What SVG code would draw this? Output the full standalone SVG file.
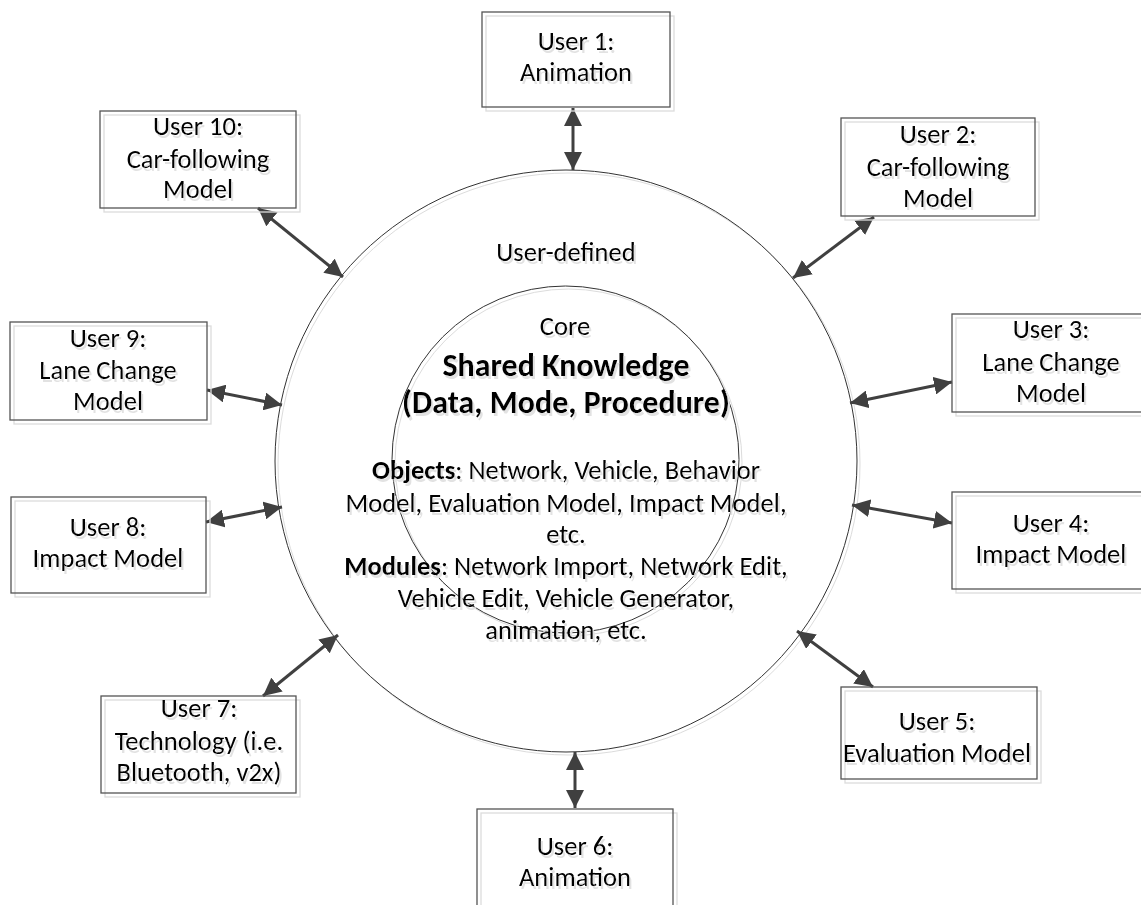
<svg xmlns="http://www.w3.org/2000/svg" width="1141" height="905" viewBox="0 0 1141 905">
<style>
text{font-family:Carlito,Lato,"Liberation Sans",sans-serif;font-size:26.6px;fill:#000;text-anchor:middle}
.b{font-weight:bold}
.big{font-size:32px;font-weight:bold}
.box{fill:none;stroke:#555;stroke-width:1.3}
.sh{fill:none;stroke:#dcdcdc;stroke-width:1.3}
.circ{fill:none;stroke:#333;stroke-width:1}
.csh{fill:none;stroke:#dcdcdc;stroke-width:1}
.con{stroke:#404040;stroke-width:3;fill:none;marker-start:url(#ah);marker-end:url(#ah)}
</style>
<defs>
<marker id="ah" markerUnits="userSpaceOnUse" markerWidth="18" markerHeight="18" refX="18" refY="9" orient="auto-start-reverse">
<path d="M0,0 L18,9 L0,18 z" fill="#404040"/>
</marker>
<filter id="ts" x="-10%" y="-30%" width="120%" height="160%">
<feOffset in="SourceAlpha" dx="2" dy="3" result="o"/>
<feFlood flood-color="#e2e2e2"/>
<feComposite in2="o" operator="in" result="s"/>
<feMerge><feMergeNode in="s"/><feMergeNode in="SourceGraphic"/></feMerge>
</filter>
</defs>
<g id="circles">
<circle class="csh" cx="569" cy="464" r="291"/>
<circle class="circ" cx="566" cy="461" r="291"/>
<circle class="csh" cx="568.5" cy="462.5" r="173.5"/>
<circle class="circ" cx="565.5" cy="459.5" r="173.5"/>
</g>
<g id="center-text" filter="url(#ts)">
<text x="566" y="261">User-defined</text>
<text x="565" y="335">Core</text>
<text class="big" x="566" y="376">Shared Knowledge</text>
<text class="big" x="566" y="413">(Data, Mode, Procedure)</text>
<text x="566" y="479"><tspan class="b">Objects</tspan>: Network, Vehicle, Behavior</text>
<text x="566" y="512">Model, Evaluation Model, Impact Model,</text>
<text x="566" y="543">etc.</text>
<text x="566" y="575"><tspan class="b">Modules</tspan>: Network Import, Network Edit,</text>
<text x="566" y="607">Vehicle Edit, Vehicle Generator,</text>
<text x="566" y="639">animation, etc.</text>
</g>
<g id="connectors">
<line class="con" x1="573" y1="108" x2="573" y2="170"/>
<line class="con" x1="874" y1="217" x2="793" y2="278"/>
<line class="con" x1="952" y1="382" x2="850" y2="403"/>
<line class="con" x1="952" y1="523" x2="852" y2="505"/>
<line class="con" x1="873" y1="687" x2="797" y2="631"/>
<line class="con" x1="575" y1="808" x2="575" y2="752"/>
<line class="con" x1="263" y1="696" x2="338" y2="635"/>
<line class="con" x1="206" y1="522" x2="282" y2="507"/>
<line class="con" x1="207" y1="390" x2="282" y2="405"/>
<line class="con" x1="258" y1="208" x2="343" y2="277"/>
</g>
<g id="user1">
<rect class="sh" x="486" y="16" width="188" height="95"/>
<rect class="box" x="482" y="12" width="188" height="95"/>
<g filter="url(#ts)"><text x="576" y="50">User 1:</text><text x="576" y="81">Animation</text></g>
</g>
<g id="user2">
<rect class="sh" x="845" y="122" width="194" height="98"/>
<rect class="box" x="841" y="118" width="194" height="98"/>
<g filter="url(#ts)"><text x="938" y="143">User 2:</text><text x="938" y="176">Car-following</text><text x="938" y="207">Model</text></g>
</g>
<g id="user3">
<rect class="sh" x="956" y="318" width="196" height="98"/>
<rect class="box" x="952" y="314" width="196" height="98"/>
<g filter="url(#ts)"><text x="1051" y="338">User 3:</text><text x="1051" y="371">Lane Change</text><text x="1051" y="402">Model</text></g>
</g>
<g id="user4">
<rect class="sh" x="956" y="496" width="196" height="97"/>
<rect class="box" x="952" y="492" width="196" height="97"/>
<g filter="url(#ts)"><text x="1051" y="532">User 4:</text><text x="1051" y="563">Impact Model</text></g>
</g>
<g id="user5">
<rect class="sh" x="845" y="691" width="196" height="92"/>
<rect class="box" x="841" y="687" width="196" height="92"/>
<g filter="url(#ts)"><text x="937" y="730">User 5:</text><text x="937" y="762">Evaluation Model</text></g>
</g>
<g id="user6">
<rect class="sh" x="481" y="813" width="196" height="100"/>
<rect class="box" x="477" y="809" width="196" height="100"/>
<g filter="url(#ts)"><text x="575" y="855">User 6:</text><text x="575" y="886">Animation</text></g>
</g>
<g id="user7">
<rect class="sh" x="105" y="700" width="195" height="97"/>
<rect class="box" x="101" y="696" width="195" height="97"/>
<g filter="url(#ts)"><text x="199" y="717">User 7:</text><text x="199" y="750">Technology (i.e.</text><text x="199" y="781">Bluetooth, v2x)</text></g>
</g>
<g id="user8">
<rect class="sh" x="15" y="501" width="195" height="96"/>
<rect class="box" x="11" y="497" width="195" height="96"/>
<g filter="url(#ts)"><text x="108" y="536">User 8:</text><text x="108" y="567">Impact Model</text></g>
</g>
<g id="user9">
<rect class="sh" x="14" y="326" width="197" height="98"/>
<rect class="box" x="10" y="322" width="197" height="98"/>
<g filter="url(#ts)"><text x="108" y="347">User 9:</text><text x="108" y="379">Lane Change</text><text x="108" y="410">Model</text></g>
</g>
<g id="user10">
<rect class="sh" x="104" y="115" width="196" height="97"/>
<rect class="box" x="100" y="111" width="196" height="97"/>
<g filter="url(#ts)"><text x="198" y="135">User 10:</text><text x="198" y="168">Car-following</text><text x="198" y="198">Model</text></g>
</g>
</svg>
